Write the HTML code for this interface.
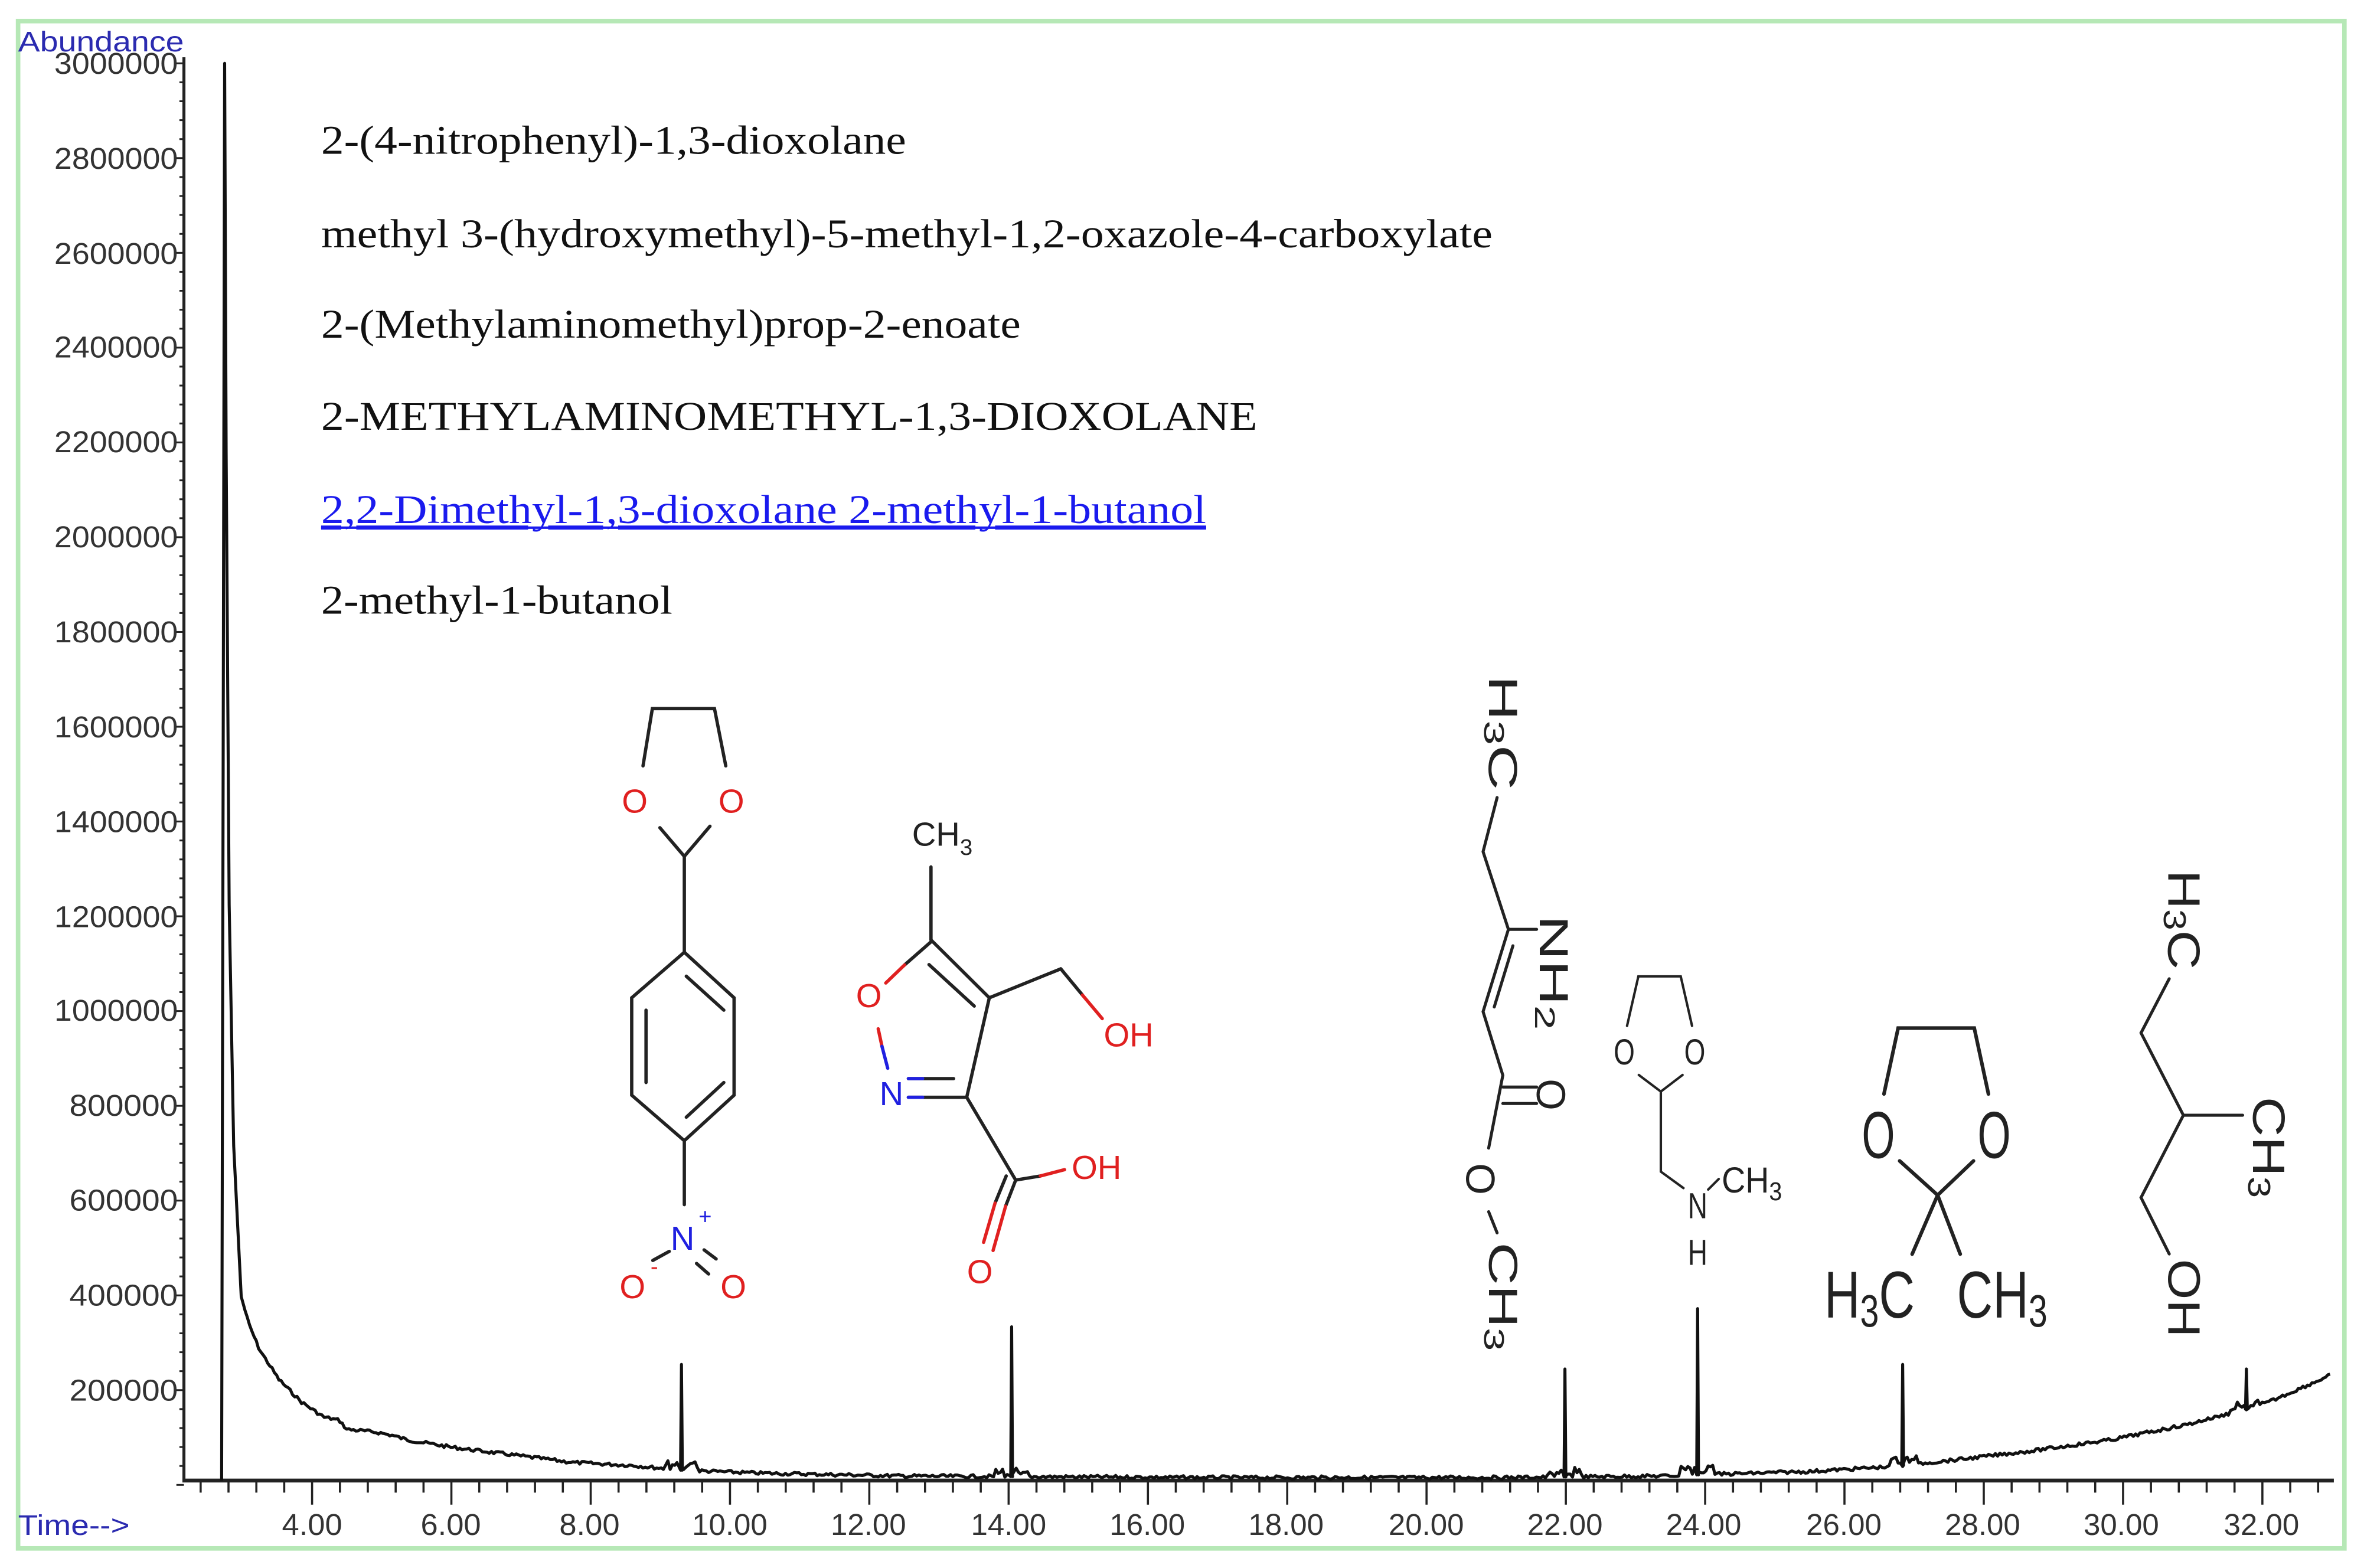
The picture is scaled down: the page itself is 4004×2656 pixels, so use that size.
<!DOCTYPE html>
<html><head><meta charset="utf-8"><style>
html,body{margin:0;padding:0;background:#fff;}
svg{display:block;}
</style></head><body>
<svg width="4004" height="2656" viewBox="0 0 1568 1040" preserveAspectRatio="none" xmlns="http://www.w3.org/2000/svg">
<rect x="0" y="0" width="1568" height="1040" fill="#fff"/>
<rect x="12" y="14" width="1543" height="1013" fill="none" stroke="#b6e8b6" stroke-width="3"/>
<!-- axis labels -->
<text x="12" y="34" font-family="Liberation Sans, sans-serif" font-size="19" fill="#2b2bb0" textLength="110" lengthAdjust="spacingAndGlyphs">Abundance</text>
<text x="12" y="1018" font-family="Liberation Sans, sans-serif" font-size="19" fill="#2b2bb0" textLength="74" lengthAdjust="spacingAndGlyphs">Time--&gt;</text>
<g font-family="Liberation Sans, sans-serif" font-size="20" fill="#333" text-anchor="end">
<text x="118" y="49" textLength="82" lengthAdjust="spacingAndGlyphs">3000000</text>
<text x="118" y="112" textLength="82" lengthAdjust="spacingAndGlyphs">2800000</text>
<text x="118" y="175" textLength="82" lengthAdjust="spacingAndGlyphs">2600000</text>
<text x="118" y="237" textLength="82" lengthAdjust="spacingAndGlyphs">2400000</text>
<text x="118" y="300" textLength="82" lengthAdjust="spacingAndGlyphs">2200000</text>
<text x="118" y="363" textLength="82" lengthAdjust="spacingAndGlyphs">2000000</text>
<text x="118" y="426" textLength="82" lengthAdjust="spacingAndGlyphs">1800000</text>
<text x="118" y="489" textLength="82" lengthAdjust="spacingAndGlyphs">1600000</text>
<text x="118" y="552" textLength="82" lengthAdjust="spacingAndGlyphs">1400000</text>
<text x="118" y="615" textLength="82" lengthAdjust="spacingAndGlyphs">1200000</text>
<text x="118" y="677" textLength="82" lengthAdjust="spacingAndGlyphs">1000000</text>
<text x="118" y="740" textLength="72" lengthAdjust="spacingAndGlyphs">800000</text>
<text x="118" y="803" textLength="72" lengthAdjust="spacingAndGlyphs">600000</text>
<text x="118" y="866" textLength="72" lengthAdjust="spacingAndGlyphs">400000</text>
<text x="118" y="929" textLength="72" lengthAdjust="spacingAndGlyphs">200000</text>
</g>
<g font-family="Liberation Sans, sans-serif" font-size="20" fill="#333" text-anchor="middle">
<text x="207" y="1018" textLength="40" lengthAdjust="spacingAndGlyphs">4.00</text>
<text x="299" y="1018" textLength="40" lengthAdjust="spacingAndGlyphs">6.00</text>
<text x="391" y="1018" textLength="40" lengthAdjust="spacingAndGlyphs">8.00</text>
<text x="484" y="1018" textLength="50" lengthAdjust="spacingAndGlyphs">10.00</text>
<text x="576" y="1018" textLength="50" lengthAdjust="spacingAndGlyphs">12.00</text>
<text x="669" y="1018" textLength="50" lengthAdjust="spacingAndGlyphs">14.00</text>
<text x="761" y="1018" textLength="50" lengthAdjust="spacingAndGlyphs">16.00</text>
<text x="853" y="1018" textLength="50" lengthAdjust="spacingAndGlyphs">18.00</text>
<text x="946" y="1018" textLength="50" lengthAdjust="spacingAndGlyphs">20.00</text>
<text x="1038" y="1018" textLength="50" lengthAdjust="spacingAndGlyphs">22.00</text>
<text x="1130" y="1018" textLength="50" lengthAdjust="spacingAndGlyphs">24.00</text>
<text x="1223" y="1018" textLength="50" lengthAdjust="spacingAndGlyphs">26.00</text>
<text x="1315" y="1018" textLength="50" lengthAdjust="spacingAndGlyphs">28.00</text>
<text x="1407" y="1018" textLength="50" lengthAdjust="spacingAndGlyphs">30.00</text>
<text x="1500" y="1018" textLength="50" lengthAdjust="spacingAndGlyphs">32.00</text>
</g>
<!-- axes -->
<g stroke="#222" fill="none">
<line x1="122" y1="38" x2="122" y2="983" stroke-width="2"/>
<line x1="121" y1="982" x2="1548" y2="982" stroke-width="2.5"/>
<g id="xt" stroke-width="1.4"></g>
<g id="yt" stroke-width="1.2"></g>
</g>
<!-- chromatogram -->
<path id="chrom" fill="none" stroke="#111" stroke-width="2" stroke-linejoin="round" d=""/>
<!-- legend -->
<g font-family="Liberation Serif, serif" font-size="27" fill="#111">
<text x="213" y="102" textLength="388" lengthAdjust="spacingAndGlyphs">2-(4-nitrophenyl)-1,3-dioxolane</text>
<text x="213" y="164" textLength="777" lengthAdjust="spacingAndGlyphs">methyl 3-(hydroxymethyl)-5-methyl-1,2-oxazole-4-carboxylate</text>
<text x="213" y="224" textLength="464" lengthAdjust="spacingAndGlyphs">2-(Methylaminomethyl)prop-2-enoate</text>
<text x="213" y="285" textLength="621" lengthAdjust="spacingAndGlyphs">2-METHYLAMINOMETHYL-1,3-DIOXOLANE</text>
<text x="213" y="347" textLength="587" lengthAdjust="spacingAndGlyphs" fill="#1a1aee" text-decoration="underline">2,2-Dimethyl-1,3-dioxolane  2-methyl-1-butanol</text>
<text x="213" y="407" textLength="233" lengthAdjust="spacingAndGlyphs">2-methyl-1-butanol</text>
</g>
<line x1="213" y1="350" x2="800" y2="350" stroke="#1a1aee" stroke-width="1.6"/>

<!-- Structure 1 -->
<g stroke="#222" stroke-width="2.2" fill="none" stroke-linecap="round">
<polyline points="426.5,508 432.7,470 473.9,470 481.4,508"/>
<polyline points="437.7,549 453.9,568 470.9,548"/>
<line x1="453.9" y1="568" x2="453.9" y2="631.6"/>
<polygon points="453.9,631.6 486.9,661.8 486.9,726.4 453.9,756.6 419,726.4 419,661.8"/>
<line x1="455.2" y1="647.5" x2="480.1" y2="670"/>
<line x1="428.5" y1="670" x2="428.5" y2="718"/>
<line x1="455.2" y1="741" x2="480.1" y2="718"/>
<line x1="453.9" y1="756.6" x2="453.9" y2="799"/>
<line x1="443.9" y1="830" x2="433" y2="836" stroke="#222"/>
<line x1="467" y1="829" x2="475" y2="835"/>
<line x1="462" y1="838" x2="470" y2="845"/>
</g>
<g font-family="Liberation Sans, sans-serif" font-size="22" text-anchor="middle">
<text x="421" y="539" fill="#e02020">O</text>
<text x="485.1" y="539" fill="#e02020">O</text>
<text x="452.7" y="829" fill="#2020e0">N</text>
<text x="467.7" y="812" font-size="15" fill="#2020e0">+</text>
<text x="419.5" y="861" fill="#e02020">O</text>
<text x="434" y="845" font-size="15" fill="#e02020">-</text>
<text x="486.4" y="861" fill="#e02020">O</text>
</g>

<!-- Structure 2 -->
<g stroke="#222" stroke-width="2.2" fill="none" stroke-linecap="round">
<line x1="617.5" y1="575" x2="617.5" y2="623.4"/>
<line x1="617.5" y1="624.7" x2="600" y2="640"/>
<line x1="600" y1="640" x2="587.5" y2="652" stroke="#e02020"/>
<line x1="617.5" y1="623.4" x2="656.2" y2="661.8"/>
<line x1="616.2" y1="639.8" x2="646.2" y2="667.3"/>
<line x1="656.2" y1="661.8" x2="641.2" y2="727.8"/>
<line x1="641.2" y1="727.8" x2="602.5" y2="727.8"/>
<line x1="632.5" y1="715.4" x2="602.5" y2="715.4"/>
<line x1="602.5" y1="727.8" x2="612" y2="727.8" stroke="#2020e0"/>
<line x1="602.5" y1="715.4" x2="612" y2="715.4" stroke="#2020e0"/>
<line x1="582.5" y1="682.4" x2="585" y2="694" stroke="#e02020"/>
<line x1="585" y1="694" x2="588.8" y2="708.5" stroke="#2020e0"/>
<line x1="656.2" y1="661.8" x2="703.6" y2="642.6"/>
<line x1="703.6" y1="642.6" x2="718" y2="660"/>
<line x1="718" y1="660" x2="731.1" y2="675.6" stroke="#e02020"/>
<line x1="641.2" y1="727.8" x2="673.7" y2="782.7"/>
<line x1="673.7" y1="782.7" x2="690" y2="780"/>
<line x1="690" y1="780" x2="706.1" y2="775.8" stroke="#e02020"/>
<line x1="673.7" y1="782.7" x2="667" y2="800"/>
<line x1="667" y1="800" x2="658.7" y2="829.4" stroke="#e02020"/>
<line x1="667.4" y1="780" x2="660" y2="798"/>
<line x1="660" y1="798" x2="652.4" y2="824" stroke="#e02020"/>
</g>
<g font-family="Liberation Sans, sans-serif" font-size="22" text-anchor="middle">
<text x="625" y="561" fill="#222">CH<tspan font-size="15" dy="6">3</tspan></text>
<text x="576.3" y="668" fill="#e02020">O</text>
<text x="591.3" y="733" fill="#2020e0">N</text>
<text x="748.6" y="694" fill="#e02020">OH</text>
<text x="727.3" y="782" fill="#e02020">OH</text>
<text x="649.9" y="851" fill="#e02020">O</text>
</g>

<!-- Structure 3 -->
<g stroke="#222" stroke-width="2" fill="none" stroke-linecap="round">
<polyline points="993,529 983.7,564.9 1000.5,616.4 983.7,671 996.8,713.2 987.4,761.5"/>
<line x1="1000.5" y1="616.4" x2="1019.2" y2="616.4"/>
<line x1="1003.5" y1="627.3" x2="991.1" y2="667.9"/>
<line x1="996.8" y1="721" x2="1019.2" y2="721"/>
<line x1="996.8" y1="731.9" x2="1019.2" y2="731.9"/>
<line x1="987.4" y1="803.7" x2="993" y2="817.7"/>
</g>
<g font-family="Liberation Sans, sans-serif" font-size="27" fill="#222" text-anchor="middle" dominant-baseline="central">
<text transform="translate(996.8,486) rotate(90)" textLength="76" lengthAdjust="spacingAndGlyphs">H<tspan font-size="19" dy="6">3</tspan><tspan dy="-6">C</tspan></text>
<text transform="translate(1030.5,645) rotate(90)" textLength="76" lengthAdjust="spacingAndGlyphs">NH<tspan font-size="19" dy="6">2</tspan></text>
<text transform="translate(1028.6,726) rotate(90)">O</text>
<text transform="translate(981.8,782) rotate(90)">O</text>
<text transform="translate(996.8,860) rotate(90)" textLength="72" lengthAdjust="spacingAndGlyphs">CH<tspan font-size="19" dy="6">3</tspan></text>
</g>

<!-- Structure 4 -->
<g stroke="#222" stroke-width="1.6" fill="none" stroke-linecap="round">
<polyline points="1079.2,680.4 1086.7,647.6 1114.8,647.6 1122.3,680.4"/>
<polyline points="1087,713 1101.6,724 1116,713"/>
<polyline points="1101.6,724 1101.6,777.1 1116.6,788"/>
<line x1="1133" y1="789" x2="1140" y2="782"/>
</g>
<g font-family="Liberation Sans, sans-serif" font-size="24" fill="#222" text-anchor="middle">
<text x="1077.3" y="706" textLength="14" lengthAdjust="spacingAndGlyphs">O</text>
<text x="1124.1" y="706" textLength="14" lengthAdjust="spacingAndGlyphs">O</text>
<text x="1126" y="808" textLength="13" lengthAdjust="spacingAndGlyphs">N</text>
<text x="1126" y="839" textLength="13" lengthAdjust="spacingAndGlyphs">H</text>
<text x="1142" y="791" text-anchor="start" textLength="40" lengthAdjust="spacingAndGlyphs">CH<tspan font-size="17" dy="5">3</tspan></text>
</g>

<!-- Structure 5 -->
<g stroke="#222" stroke-width="2.4" fill="none" stroke-linecap="round">
<polyline points="1249.6,725.6 1259,681.9 1309.5,681.9 1318.9,725.6"/>
<polyline points="1260,770 1285.2,792.7 1309,770"/>
<line x1="1285.2" y1="792.7" x2="1268.3" y2="831.8"/>
<line x1="1285.2" y1="792.7" x2="1300.2" y2="831.8"/>
</g>
<g font-family="Liberation Sans, sans-serif" font-size="44" fill="#222">
<text x="1245.9" y="768" text-anchor="middle" textLength="22" lengthAdjust="spacingAndGlyphs">O</text>
<text x="1322.7" y="768" text-anchor="middle" textLength="22" lengthAdjust="spacingAndGlyphs">O</text>
<text x="1210" y="874" textLength="60" lengthAdjust="spacingAndGlyphs">H<tspan font-size="30" dy="6">3</tspan><tspan dy="-6">C</tspan></text>
<text x="1298" y="874" textLength="60" lengthAdjust="spacingAndGlyphs">CH<tspan font-size="30" dy="6">3</tspan></text>
</g>

<!-- Structure 6 -->
<g stroke="#222" stroke-width="2" fill="none" stroke-linecap="round">
<polyline points="1438.8,649.2 1420.1,685.1 1448.2,739.7 1420.1,794.3 1438.8,831.7"/>
<line x1="1448.2" y1="739.7" x2="1487.5" y2="739.7"/>
</g>
<g font-family="Liberation Sans, sans-serif" font-size="30" fill="#222" text-anchor="middle" dominant-baseline="central">
<text transform="translate(1448.2,610) rotate(90)" textLength="66" lengthAdjust="spacingAndGlyphs">H<tspan font-size="21" dy="6">3</tspan><tspan dy="-6">C</tspan></text>
<text transform="translate(1504.3,761) rotate(90)" textLength="67" lengthAdjust="spacingAndGlyphs">CH<tspan font-size="21" dy="6">3</tspan></text>
<text transform="translate(1448.2,861) rotate(90)" textLength="52" lengthAdjust="spacingAndGlyphs">OH</text>
</g>
</svg>
<script>
(function(){
var ns="http://www.w3.org/2000/svg";
function X(t){return 207+(t-4)*46.2;}
var xt=document.getElementById("xt");
for(var i=0;i<=77;i++){var t=2.4+i*0.4;var x=X(t);if(x>1548)break;
 var major=Math.abs((t/2)-Math.round(t/2))<0.01;
 var l=document.createElementNS(ns,"line");l.setAttribute("x1",x);l.setAttribute("x2",x);
 l.setAttribute("y1",982);l.setAttribute("y2",major?998:990);xt.appendChild(l);}
var yt=document.getElementById("yt");
for(var v=0;v<=3000000;v+=40000){var y=42+(3000000-v)/200000*62.86;
 var major=v%200000==0;var l=document.createElementNS(ns,"line");
 l.setAttribute("x1",major?117:119);l.setAttribute("x2",122);l.setAttribute("y1",y);l.setAttribute("y2",y);yt.appendChild(l);}
var base=[[160,860],[165,878],[172,895],[185,915],[200,930],[215,940],[225,942],[230,948],[250,950],[260,952],[270,955],[300,960],[340,965],[380,970],[420,972],[450,975],[500,977],[600,979],[800,980],[1000,980],[1100,979],[1200,976],[1250,973],[1300,968],[1350,962],[1400,955],[1450,945],[1500,932],[1546,912]];
function B(x){for(var i=0;i<base.length-1;i++){if(x>=base[i][0]&&x<=base[i+1][0]){var f=(x-base[i][0])/(base[i+1][0]-base[i][0]);return base[i][1]+f*(base[i+1][1]-base[i][1]);}}return 912;}
var peaks=[[452,905],[671,880],[1038,908],[1126,868],[1262,905],[1490,908]];
var d="M147,982 L149,42 L150,300 L152,600 L155,760 L160,860";
var seed=7;function r(){seed=(seed*9301+49297)%233280;return seed/233280;}
for(var x=161;x<=1546;x+=1.5){var y=B(x)+(r()-0.5)*2.2;
 for(var p=0;p<peaks.length;p++){var px=peaks[p][0];if(Math.abs(x-px)<1){d+=" L"+(px-0.6).toFixed(1)+","+B(px).toFixed(1)+" L"+px+","+peaks[p][1]+" L"+(px+0.6).toFixed(1)+","+B(px).toFixed(1);}
  else if(Math.abs(x-px)<12){y-=(r())*6;}}
 d+=" L"+x.toFixed(1)+","+y.toFixed(1);}
document.getElementById("chrom").setAttribute("d",d);
})();
</script>
</body></html>
